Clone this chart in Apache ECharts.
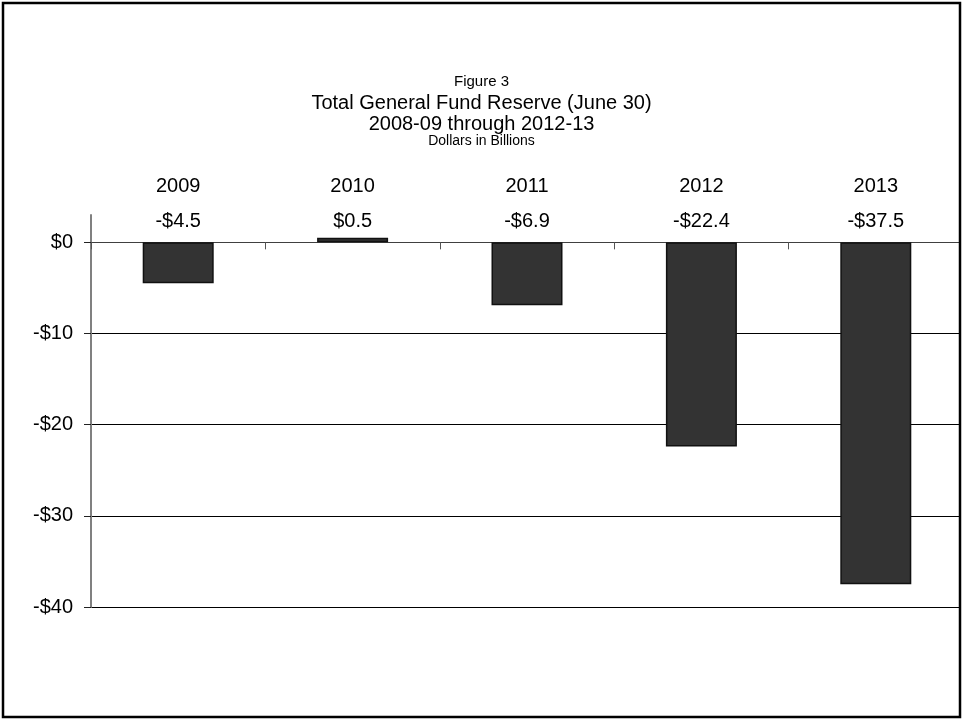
<!DOCTYPE html>
<html>
<head>
<meta charset="utf-8">
<title>Total General Fund Reserve (June 30)</title>
<script src="https://cdn.jsdelivr.net/npm/echarts@6/dist/echarts.min.js"></script>
<style>
  html, body { margin: 0; padding: 0; background: #ffffff; }
  #chart { width: 963px; height: 720px; }
</style>
</head>
<body>
<div id="chart"></div>
<script>
// Fiscal year-end (June 30) reserve, dollars in billions
var years = ['2009', '2010', '2011', '2012', '2013'];
var reserve = [-4.5, 0.5, -6.9, -22.4, -37.5];
var yTicks = [-40, -30, -20, -10, 0];
var titleLines = ['Figure 3', 'Total General Fund Reserve (June 30)', '2008-09 through 2012-13', 'Dollars in Billions'];

var FONT = '"Liberation Sans", Arial, Helvetica, sans-serif';

function money(v) {
  var a = Math.abs(v);
  var s = a % 1 === 0 ? String(a) : a.toFixed(1);
  return (v < 0 ? '-$' : '$') + s;
}

var titleFonts = [15, 20, 20, 14];
var titleY = [82, 103, 124, 141];

var chart = echarts.init(document.getElementById('chart'), null, { renderer: 'canvas' });

var graphics = titleLines.map(function (t, i) {
  return {
    type: 'text',
    z: 50,
    style: {
      text: t,
      x: 481.5,
      y: titleY[i],
      align: 'center',
      verticalAlign: 'middle',
      fill: '#000',
      font: titleFonts[i] + 'px ' + FONT
    }
  };
});
// blank margin outside the frame on the right
graphics.push({
  type: 'rect',
  z: 99,
  shape: { x: 961, y: 0, width: 10, height: 720 },
  style: { fill: '#ffffff' }
});
// outer frame
graphics.push({
  type: 'rect',
  z: 100,
  shape: { x: 3, y: 3, width: 957, height: 714 },
  style: { fill: 'none', stroke: '#000', lineWidth: 2.5 }
});

chart.setOption({
  animation: false,
  backgroundColor: '#ffffff',
  textStyle: { fontFamily: FONT },
  grid: { left: 91, right: -8, top: 215, bottom: 113, containLabel: false },
  graphic: graphics,
  xAxis: [
    {
      type: 'category',
      data: years,
      position: 'bottom',
      axisLine: { onZero: true, lineStyle: { color: '#404040', width: 1 } },
      axisTick: { show: true, length: 7, lineStyle: { color: '#555', width: 1 } },
      axisLabel: { show: false },
      splitLine: { show: false }
    },
    {
      type: 'category',
      data: years,
      position: 'top',
      axisLine: { show: false },
      axisTick: { show: false },
      axisLabel: { show: true, margin: 19, fontSize: 20, color: '#000', fontFamily: FONT },
      splitLine: { show: false }
    }
  ],
  yAxis: {
    type: 'value',
    min: -40,
    max: 3,
    interval: 10,
    axisLine: { show: true, lineStyle: { color: '#808080', width: 2 } },
    axisTick: { show: true, length: 7, customValues: yTicks, lineStyle: { color: '#222', width: 1 } },
    axisLabel: {
      customValues: yTicks,
      margin: 18,
      fontSize: 20,
      color: '#000',
      fontFamily: FONT,
      formatter: function (v) { return money(v); }
    },
    splitLine: { show: true, lineStyle: { color: '#000', width: 1 } }
  },
  series: [
    {
      type: 'bar',
      xAxisIndex: 0,
      data: reserve,
      barWidth: 71,
      itemStyle: { color: '#333333', borderColor: '#111111', borderWidth: 1.5 },
      z: 3
    },
    {
      // value captions sitting above the zero line
      type: 'scatter',
      xAxisIndex: 0,
      symbolSize: 0,
      itemStyle: { opacity: 1 },
      data: reserve.map(function (v, i) { return [i, 0]; }),
      label: {
        show: true,
        position: 'top',
        distance: 11,
        fontSize: 20,
        color: '#000',
        opacity: 1,
        fontFamily: FONT,
        formatter: function (p) { return money(reserve[p.dataIndex]); }
      },
      silent: true,
      z: 4
    }
  ]
});
</script>
</body>
</html>
